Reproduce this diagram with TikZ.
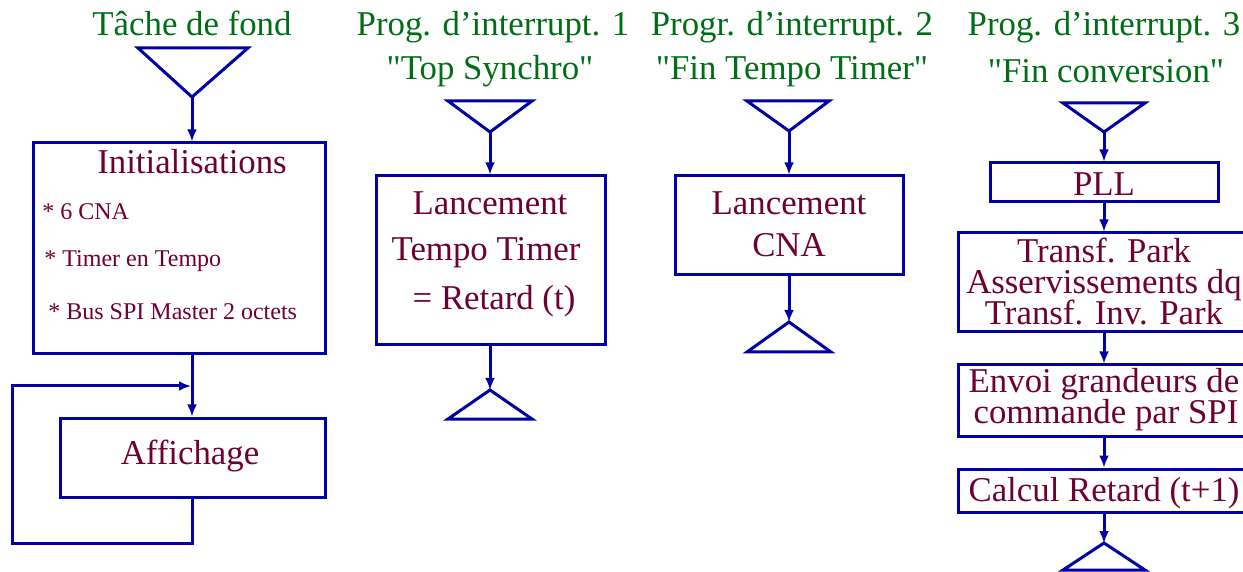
\documentclass[tikz,border=0pt]{standalone}
\usepackage{fontspec}
\setmainfont{Liberation Serif}[Ligatures=TeXOff]
\usetikzlibrary{arrows.meta}
\definecolor{tgreen}{RGB}{0,110,20}
\definecolor{tmaroon}{RGB}{110,0,50}
\definecolor{lblue}{RGB}{0,0,165}
\begin{document}
\begin{tikzpicture}[x=0.5pt,y=-0.5pt,
  ln/.style={draw=lblue, line width=1.5pt},
  arr/.style={ln, -{Latex[length=6pt,width=5pt]}},
  box/.style={ln, rectangle, inner sep=0pt},
  ttl/.style={text=tgreen, font=\fontsize{17.4pt}{20pt}\selectfont, anchor=base, inner sep=0pt},
  txt/.style={text=tmaroon, font=\fontsize{17.4pt}{20pt}\selectfont, anchor=base, inner sep=0pt},
  stxt/.style={text=tmaroon, font=\fontsize{12pt}{14pt}\selectfont, anchor=base west, inner sep=0pt},
  tri/.style={ln, line join=miter}]
\useasboundingbox (0,0) rectangle (1243,572);
% ---------- Column 1
\node[ttl] (t1) at (192,36) {Tâche de fond};
\coordinate (a1) at (192,97);
\draw[tri] (138,48) -- (248,48) -- (a1) -- cycle;
\node[box, minimum width=146pt, minimum height=105.5pt] (init) at (179,248.5) {};
\node[txt] (initt) at (192,174) {Initialisations};
\node[stxt] (i1) at (42,220) {* 6 CNA};
\node[stxt] (i2) at (44,267) {* Timer en Tempo};
\node[stxt] (i3) at (48,320) {* Bus SPI Master 2 octets};
\draw[arr] (a1) -- (a1 |- init.north);
\node[box, minimum width=132.5pt, minimum height=39.5pt] (aff) at (192.5,457.5) {};
\node[txt] (afft) at (190,465) {Affichage};
\draw[arr] (a1 |- init.south) -- (a1 |- aff.north);
\coordinate (lb) at (192,543);
\coordinate (lin) at (191,386);
\draw[arr] (lb |- aff.south) -- (lb) -| (12,386) -- (lin);
% ---------- Column 2
\node[ttl] (t2a) at (493,36) {Prog. d’interrupt. 1};
\node[ttl] (t2b) at (490,80) {"Top Synchro"};
\coordinate (a2) at (490,132);
\draw[tri] (448,101) -- (532,101) -- (a2) -- cycle;
\node[box, minimum width=114.5pt, minimum height=84.5pt] (lt) at (490.5,260.5) {};
\node[txt] (lt1) at (490,215) {Lancement};
\node[txt] (lt2) at (486,261) {Tempo Timer};
\node[txt] (lt3) at (494,310) {= Retard (t)};
\draw[arr] (a2) -- (a2 |- lt.north);
\coordinate (b2) at (490,390);
\draw[tri] (448,419) -- (532,419) -- (b2) -- cycle;
\draw[arr] (b2 |- lt.south) -- (b2);
% ---------- Column 3
\node[ttl] (t3a) at (792,36) {Progr. d’interrupt. 2};
\node[ttl] (t3b) at (792,80) {"Fin Tempo Timer"};
\coordinate (a3) at (789,131);
\draw[tri] (747,101) -- (829,101) -- (a3) -- cycle;
\node[box, minimum width=114pt, minimum height=49.5pt] (lc) at (789,225.5) {};
\node[txt] (lc1) at (789,215) {Lancement};
\node[txt] (lc2) at (789,257) {CNA};
\draw[arr] (a3) -- (a3 |- lc.north);
\coordinate (b3) at (789,322);
\draw[tri] (747,352) -- (831,352) -- (b3) -- cycle;
\draw[arr] (b3 |- lc.south) -- (b3);
% ---------- Column 4
\node[ttl] (t4a) at (1104,36) {Prog. d’interrupt. 3};
\node[ttl] (t4b) at (1106,83) {"Fin conversion"};
\coordinate (a4) at (1104,132);
\draw[tri] (1063,103) -- (1145,103) -- (a4) -- cycle;
\node[box, minimum width=114pt, minimum height=19.5pt] (pll) at (1104,182.5) {};
\node[txt] (pllt) at (1104,196) {PLL};
\node[box, minimum width=151pt, minimum height=49.5pt] (park) at (1109,282.5) {};
\node[txt] (p1) at (1104,263) {Transf. Park};
\node[txt] (p2) at (1104,294) {Asservissements dq};
\node[txt] (p3) at (1104,325) {Transf. Inv. Park};
\node[box, minimum width=151pt, minimum height=35.5pt] (env) at (1109,400.5) {};
\node[txt] (e1) at (1104,393) {Envoi grandeurs de};
\node[txt] (e2) at (1106,423) {commande par SPI};
\node[box, minimum width=151pt, minimum height=21.5pt] (calc) at (1109,490.5) {};
\node[txt] (ct) at (1104,502) {Calcul Retard (t+1)};
\coordinate (b4) at (1104,543);
\draw[tri] (1063,570) -- (1145,570) -- (b4) -- cycle;
\draw[arr] (a4) -- (a4 |- pll.north);
\draw[arr] (a4 |- pll.south) -- (a4 |- park.north);
\draw[arr] (a4 |- park.south) -- (a4 |- env.north);
\draw[arr] (a4 |- env.south) -- (a4 |- calc.north);
\draw[arr] (a4 |- calc.south) -- (b4);
\end{tikzpicture}
\end{document}
